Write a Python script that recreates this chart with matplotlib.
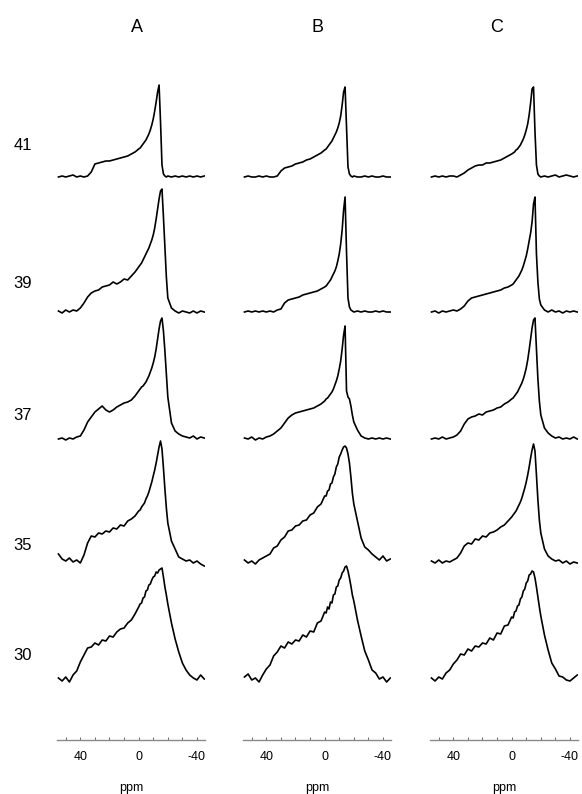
import matplotlib.pyplot as plt
from matplotlib.ticker import MultipleLocator

# chemical shift grid (ppm), shared by all spectra
ppm = [55, 52.5, 50, 47.5, 45, 42.5, 40, 37.5, 35, 32.5, 30, 27.5, 25, 22.5, 20,
       17.5, 15, 12.5, 10, 7.5, 5, 2.5, 0,
       -1, -2, -3, -4, -5, -6, -7, -8, -9, -10, -11, -12, -13, -14, -15, -16,
       -17, -18, -19, -20,
       -22.5, -25, -27.5, -30, -32.5, -35, -37.5, -40, -42.5, -45]

columns = ["A", "B", "C"]
temps = ["41", "39", "37", "35", "30"]

# intensities (a.u.)
a_41 = [0, 1, 0, 1, 2, 0, 1, 0, 1, 5, 13, 14, 15, 16, 16, 17, 18, 19, 20, 21, 23, 25, 28,
        29, 31, 33, 35, 37, 40, 43, 47, 52, 58, 66, 75, 85, 92, 55, 12, 3, 1, 0, 1,
        0, 1, 0, 1, 0, 1, 0, 1, 0, 1]
a_39 = [1, -1, 2, 0, 2, 1, 4, 9, 15, 19, 21, 22, 25, 26, 27, 30, 28, 30, 33, 32, 36, 40, 45,
        47, 49, 52, 55, 58, 61, 64, 68, 72, 77, 84, 93, 103, 113, 121, 123, 95, 65, 35, 14,
        4, 1, -1, 1, 0, -1, 1, -1, 1, 0]
a_37 = [0, 1, -1, 1, 0, 2, 3, 9, 17, 22, 27, 30, 33, 29, 27, 29, 32, 34, 36, 37, 39, 43, 48,
        50, 52, 53, 55, 57, 60, 63, 67, 71, 76, 82, 90, 100, 110, 118, 121, 108, 88, 65, 42,
        16, 8, 5, 3, 2, 1, 3, 0, 2, 1]
a_35 = [9, 4, 2, 5, 1, 3, 0, 8, 20, 27, 26, 30, 29, 32, 31, 35, 34, 38, 37, 42, 44, 47, 52,
        53, 56, 58, 60, 64, 67, 71, 76, 81, 87, 93, 100, 108, 116, 122, 114, 95, 74, 55, 40,
        22, 14, 6, 4, 2, 3, 0, 2, -1, -3]
a_30 = [3, 0, 4, -1, 6, 10, 19, 26, 33, 34, 38, 36, 41, 40, 45, 44, 49, 52, 53, 58, 61, 67, 74,
        77, 78, 83, 84, 90, 91, 96, 97, 101, 104, 105, 109, 108, 111, 112, 113, 104, 94, 86, 77,
        58, 42, 29, 18, 11, 6, 3, 1, 6, 2]

b_41 = [0, 1, 0, 0, 1, 0, 1, 0, 0, 1, 6, 9, 10, 11, 13, 14, 15, 17, 18, 20, 22, 24, 27,
        28, 30, 32, 34, 36, 39, 42, 45, 49, 54, 61, 72, 85, 90, 50, 10, 3, 1, 0, 1,
        0, 0, 1, 0, 1, 0, 0, 1, 0, 0]
b_39 = [0, 1, 0, 1, 0, 1, 0, 1, 0, 2, 3, 9, 12, 13, 14, 15, 17, 18, 19, 20, 21, 23, 25,
        26, 28, 30, 32, 35, 38, 41, 45, 51, 58, 68, 82, 102, 115, 60, 14, 5, 2, 1, 0,
        1, 0, 1, 0, 0, 1, 0, 1, 0, 0]
b_37 = [1, 0, 2, -1, 1, 0, 2, 3, 5, 8, 11, 16, 21, 24, 26, 27, 28, 29, 30, 31, 33, 35, 38,
        40, 41, 43, 45, 47, 50, 54, 58, 63, 70, 78, 90, 104, 113, 48, 42, 40, 33, 24, 17,
        9, 3, 1, 0, 1, 0, 1, 0, 1, 0]
b_35 = [3, 0, 2, -1, 3, 5, 7, 9, 15, 17, 23, 26, 32, 33, 37, 38, 42, 43, 48, 50, 56, 59, 67,
        67, 72, 73, 79, 80, 86, 89, 96, 99, 106, 109, 113, 116, 117, 115, 109, 100, 86, 70, 59,
        42, 25, 16, 13, 9, 6, 3, 7, 2, 4]
b_30 = [4, 7, 1, 3, -1, 6, 12, 16, 25, 29, 35, 33, 39, 37, 41, 40, 46, 44, 50, 49, 58, 60, 69,
        68, 74, 72, 79, 78, 86, 87, 94, 95, 101, 103, 108, 110, 114, 115, 110, 103, 95, 86, 80,
        61, 45, 30, 21, 11, 8, 2, 4, -1, 3]

c_41 = [0, 1, 0, 1, 0, 1, 1, 0, 2, 4, 7, 9, 11, 12, 12, 14, 14, 15, 16, 17, 19, 21, 23,
        24, 25, 27, 28, 30, 32, 35, 38, 42, 47, 53, 62, 74, 88, 90, 45, 12, 3, 1, 0,
        1, 0, 1, 2, 0, 1, 2, 1, 0, 1]
c_39 = [0, 1, -1, 1, 0, 1, 2, 1, 3, 6, 11, 14, 15, 16, 17, 18, 19, 20, 21, 22, 24, 25, 27,
        28, 30, 32, 34, 36, 39, 42, 46, 51, 56, 63, 71, 79, 90, 108, 115, 58, 30, 13, 7,
        2, 0, 2, 0, 1, -1, 1, 0, 1, 0]
c_37 = [0, 1, 0, 2, 0, 1, 2, 4, 8, 15, 20, 22, 23, 25, 24, 27, 28, 29, 31, 32, 35, 37, 40,
        41, 43, 45, 47, 50, 53, 56, 60, 65, 71, 79, 89, 100, 111, 119, 121, 90, 60, 38, 24,
        11, 6, 3, 1, 2, 0, 1, 0, 2, 0]
c_35 = [2, 0, 3, 0, 2, 1, 3, 5, 10, 17, 20, 19, 24, 23, 27, 26, 30, 31, 33, 36, 38, 42, 46,
        48, 50, 52, 55, 58, 61, 65, 70, 75, 81, 88, 96, 105, 113, 119, 112, 88, 63, 43, 30,
        14, 7, 4, 2, 3, 0, 2, -1, 1, 0]
c_30 = [3, 0, 4, 2, 8, 11, 17, 21, 27, 26, 32, 30, 35, 34, 38, 37, 43, 41, 48, 47, 55, 56, 64,
        63, 69, 70, 75, 76, 82, 84, 90, 92, 98, 100, 106, 107, 110, 109, 103, 94, 84, 74, 65,
        46, 31, 18, 12, 5, 4, 1, 0, 3, 6]

spectra = [[a_41, a_39, a_37, a_35, a_30],
           [b_41, b_39, b_37, b_35, b_30],
           [c_41, c_39, c_37, c_35, c_30]]

# layout, in image pixels
W, H = 582, 794
col_left = [57, 243, 430]
col_width = 148
top_px, axis_px = 60, 740
row_base = [177, 312, 439, 563, 681]
row_label_y = [145, 284, 416, 545, 655]
title_x = [137, 318, 497]

plt.rcParams['font.family'] = ['Liberation Sans', 'DejaVu Sans']

fig = plt.figure(figsize=(W / 100, H / 100), dpi=100)

for ci, col in enumerate(columns):
    ax = fig.add_axes([col_left[ci] / W, (H - axis_px) / H,
                       col_width / W, (axis_px - top_px) / H])
    for ri, vals in enumerate(spectra[ci]):
        assert len(vals) == len(ppm)
        ax.plot(ppm, [row_base[ri] - v for v in vals], color='black', lw=1.2)
    ax.set_xlim(56, -45.5)
    ax.set_ylim(axis_px, top_px)  # y in pixel units, pointing down
    for side in ['left', 'right', 'top']:
        ax.spines[side].set_visible(False)
    ax.spines['bottom'].set_color('#8a8a8a')
    ax.spines['bottom'].set_linewidth(1.0)
    ax.set_yticks([])
    ax.set_xticks([40, 0, -40])
    ax.set_xticklabels(['40', '0', '-40'])
    ax.xaxis.set_minor_locator(MultipleLocator(10))
    ax.tick_params(which='both', direction='in', length=2, width=0.6,
                   color='#555555', labelsize=9, pad=8)
    ax.patch.set_alpha(0)

    fig.text((col_left[ci] + col_width / 2) / W, 1 - 788 / H, 'ppm',
             ha='center', va='center', fontsize=9)
    fig.text(title_x[ci] / W, 1 - 27 / H, col,
             ha='center', va='center', fontsize=13)

for ri, t in enumerate(temps):
    fig.text(23 / W, 1 - row_label_y[ri] / H, t,
             ha='center', va='center', fontsize=12)

fig.savefig('out.png', dpi=100, facecolor='white')
